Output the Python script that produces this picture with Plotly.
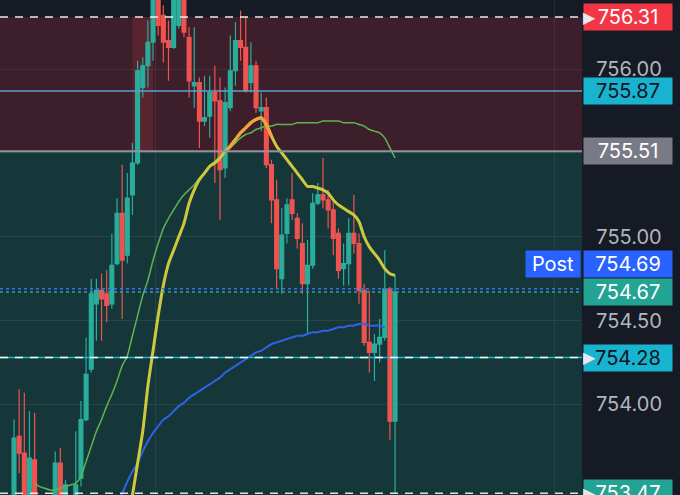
import plotly.graph_objects as go

# ---------------- data ----------------
opens = [753.39,753.81,753.71,753.36,753.67,753.40,753.33,753.41,753.36,753.65,
         753.36,753.36,753.40,753.56,753.91,754.21,754.60,754.68,754.66,754.60,
         754.84,755.14,754.89,755.25,755.44,755.89,756.02,756.16,756.43,756.32,
         756.17,756.13,756.26,756.41,756.19,755.90,755.92,755.69,755.72,755.86,
         755.81,755.41,755.77,755.99,756.17,756.13,755.92,756.02,755.75,755.77,
         755.43,755.22,754.75,755.02,755.22,755.11,754.96,754.72,754.83,755.20,
         755.25,755.22,755.16,755.02,754.81,754.84,755.02,754.96,754.68,754.37,
         754.31,754.36,754.40,754.69,753.90]
highs = [753.91,754.09,754.07,753.96,753.95,753.44,753.42,753.44,753.72,753.74,
         753.55,753.46,753.84,754.02,754.40,754.75,754.75,754.78,754.80,755.02,
         755.23,755.43,755.38,755.56,756.05,756.07,756.29,756.47,756.47,756.38,
         756.29,756.44,756.47,756.44,756.25,756.25,755.95,755.96,755.96,756.02,
         755.95,755.89,756.20,756.28,756.35,756.31,756.16,756.05,755.86,755.83,
         755.46,755.34,755.17,755.23,755.38,755.14,755.08,754.98,755.26,755.32,
         755.47,755.28,755.22,755.05,754.96,755.11,755.25,755.02,754.72,754.68,
         754.42,754.51,754.92,754.70,754.77]
lows = [753.33,753.59,753.33,753.33,753.30,753.30,753.28,753.30,753.33,753.33,
        753.33,753.33,753.35,753.51,753.90,754.19,754.38,754.38,754.49,754.57,
        754.83,754.51,754.84,755.13,755.43,755.83,755.89,756.05,756.20,756.04,
        755.93,756.12,756.24,756.19,755.83,755.77,755.53,755.66,755.59,755.32,
        755.10,755.35,755.75,755.90,756.05,755.86,755.86,755.74,755.63,755.41,
        755.08,754.69,754.66,754.96,755.10,754.93,754.66,754.42,754.81,755.19,
        755.17,755.05,754.89,754.75,754.71,754.71,754.90,754.60,754.35,754.19,
        754.14,754.25,754.38,753.79,753.47]
closes = [753.80,753.71,753.39,753.68,753.36,753.34,753.40,753.35,753.65,753.39,
          753.52,753.42,753.52,753.91,754.18,754.66,754.68,754.63,754.59,754.83,
          755.14,754.86,755.23,755.44,755.99,756.02,756.16,756.43,756.26,756.16,
          756.13,756.41,756.44,756.22,755.93,755.92,755.69,755.71,755.86,755.81,
          755.40,755.80,755.99,756.17,756.13,755.87,756.02,755.77,755.77,755.43,
          755.22,754.81,755.01,755.19,755.14,754.99,754.72,754.83,755.20,755.25,
          755.22,755.16,754.99,754.80,754.84,755.02,754.96,754.68,754.37,754.31,
          754.36,754.40,754.69,753.90,754.67]

fast_ma_start = 22
fast_ma = [753.30,753.46,753.65,753.84,754.11,754.32,754.53,754.71,754.84,754.92,
           755.00,755.08,755.20,755.28,755.34,755.38,755.42,755.44,755.47,755.51,
           755.54,755.58,755.62,755.65,755.68,755.70,755.71,755.67,755.60,755.54,
           755.50,755.46,755.42,755.38,755.34,755.30,755.30,755.29,755.28,755.26,
           755.22,755.19,755.17,755.15,755.13,755.09,755.00,754.94,754.90,754.86,
           754.81,754.78,754.77]
fast_ma_hot_from = 41
fast_ma_hot_to = 50

slow_ma_start = 4
slow_ma = [753.53,753.51,753.50,753.49,753.49,753.50,753.51,753.52,753.53,753.57,
           753.66,753.75,753.84,753.91,753.99,754.06,754.14,754.23,754.29,754.41,
           754.53,754.65,754.74,754.86,754.96,755.05,755.11,755.16,755.21,755.25,
           755.28,755.31,755.35,755.38,755.42,755.45,755.48,755.51,755.53,755.56,
           755.59,755.61,755.62,755.64,755.65,755.66,755.66,755.67,755.67,755.67,
           755.67,755.68,755.68,755.68,755.68,755.68,755.69,755.69,755.69,755.69,
           755.68,755.68,755.68,755.67,755.66,755.64,755.63,755.62,755.59,755.53,
           755.47]

vwap_start = 20
vwap = [753.42,753.47,753.54,753.60,753.65,753.72,753.78,753.83,753.87,753.91,
        753.93,753.96,753.99,754.01,754.04,754.06,754.08,754.10,754.12,754.14,
        754.16,754.19,754.21,754.23,754.25,754.27,754.29,754.31,754.32,754.34,
        754.36,754.37,754.38,754.39,754.40,754.41,754.41,754.42,754.43,754.43,
        754.44,754.44,754.45,754.46,754.46,754.47,754.47,754.48,754.48,754.47,
        754.47,754.47,754.46]

grid_values = [756.00, 755.50, 755.00, 754.50, 754.00]
tick_values = [756.00, 755.00, 754.50, 754.00]
tick_labels = ["756.00", "755.00", "754.50", "754.00"]

level_high = 756.31
level_blue = 755.87
level_grey = 755.51
post_price = 754.69
last_close = 754.67
level_mid = 754.28
level_low = 753.47
highlight_from, highlight_to = 23.0, 27.0
time_grid = [27.4, 105.0]

# ---------------- styling ----------------
BG = "#161a25"
TEAL = "#29ad9c"
RED = "#ef5350"
FONT = "Inter, Roboto, sans-serif"

n = len(opens)
xs = list(range(n))

fig = go.Figure()

fig.add_trace(go.Candlestick(
    x=xs, open=opens, high=highs, low=lows, close=closes,
    increasing=dict(line=dict(color=TEAL, width=1.2), fillcolor=TEAL),
    decreasing=dict(line=dict(color=RED, width=1.2), fillcolor=RED),
    whiskerwidth=0, hoverinfo="skip", showlegend=False,
))

fig.add_trace(go.Scatter(
    x=list(range(vwap_start, vwap_start + len(vwap))), y=vwap, mode="lines",
    line=dict(color="#2f62e6", width=2, shape="spline", smoothing=0.6),
    hoverinfo="skip", showlegend=False))
fig.add_trace(go.Scatter(
    x=list(range(slow_ma_start, slow_ma_start + len(slow_ma))), y=slow_ma, mode="lines",
    line=dict(color="#5cb54f", width=1.5, shape="spline", smoothing=0.6),
    hoverinfo="skip", showlegend=False))
fig.add_trace(go.Scatter(
    x=list(range(fast_ma_start, fast_ma_start + len(fast_ma))), y=fast_ma, mode="lines",
    line=dict(color="#cfc73c", width=3, shape="spline", smoothing=0.6),
    hoverinfo="skip", showlegend=False))
hot = fast_ma[fast_ma_hot_from - fast_ma_start: fast_ma_hot_to - fast_ma_start + 1]
fig.add_trace(go.Scatter(
    x=list(range(fast_ma_hot_from, fast_ma_hot_to + 1)), y=hot, mode="lines",
    line=dict(color="#f2a33a", width=3, shape="spline", smoothing=0.6),
    hoverinfo="skip", showlegend=False))

shapes = [
    dict(type="rect", xref="paper", yref="y", x0=0, x1=1, y0=level_grey, y1=level_high,
         fillcolor="#3c1f2b", line_width=0, layer="below"),
    dict(type="rect", xref="paper", yref="y", x0=0, x1=1, y0=level_low - 0.05, y1=level_grey,
         fillcolor="#16373a", line_width=0, layer="below"),
    dict(type="rect", xref="x", yref="y", x0=highlight_from, x1=highlight_to,
         y0=level_grey, y1=level_high, fillcolor="#57242f", line_width=0, layer="below"),
    dict(type="line", xref="paper", yref="y", x0=0, x1=1, y0=level_blue, y1=level_blue,
         line=dict(color="#5aa3c8", width=1.5)),
    dict(type="line", xref="paper", yref="y", x0=0, x1=1, y0=level_grey, y1=level_grey,
         line=dict(color="#8f929b", width=2)),
    dict(type="line", xref="paper", yref="y", x0=0, x1=1, y0=level_high, y1=level_high,
         line=dict(color="rgba(255,255,255,0.9)", width=1.5, dash="8px,7px")),
    dict(type="line", xref="paper", yref="y", x0=0, x1=1, y0=level_mid, y1=level_mid,
         line=dict(color="#1fb6cf", width=1.5)),
    dict(type="line", xref="paper", yref="y", x0=0, x1=1, y0=level_mid, y1=level_mid,
         line=dict(color="rgba(255,255,255,0.95)", width=1.5, dash="8px,7px")),
    dict(type="line", xref="paper", yref="y", x0=0, x1=1, y0=level_low, y1=level_low,
         line=dict(color="rgba(255,255,255,0.85)", width=1.5, dash="8px,7px")),
    dict(type="line", xref="paper", yref="y", x0=0, x1=1, y0=post_price, y1=post_price,
         line=dict(color="#3d6ef5", width=1.5, dash="dot")),
    dict(type="line", xref="paper", yref="y", x0=0, x1=1, y0=last_close, y1=last_close,
         line=dict(color="#2aa898", width=1.5, dash="dot")),
]

annotations = []
TICK_FONT = dict(family=FONT, size=20, color="#b2b5be")
for v, t in zip(tick_values, tick_labels):
    annotations.append(dict(x=1, xref="paper", xanchor="left", xshift=1, y=v, yref="y",
                            yanchor="middle", text=t, showarrow=False, width=88,
                            align="center", font=TICK_FONT))

def label(v, text, bg, fg, yshift=0, pointer=False):
    annotations.append(dict(x=1, xref="paper", xanchor="left", xshift=1, y=v, yref="y",
                            yanchor="middle", yshift=yshift, text=text, showarrow=False,
                            width=88, height=26, borderpad=0, align="center", bgcolor=bg,
                            font=dict(family=FONT, size=20, color=fg)))
    if pointer:
        annotations.append(dict(x=1, xref="paper", xanchor="left", xshift=-1, y=v, yref="y",
                                yanchor="middle", yshift=yshift, text="▶", showarrow=False,
                                font=dict(family="DejaVu Sans", size=16, color="#e8e8e8")))

label(level_high, "756.31", "#f23645", "#ffffff", pointer=True)
label(level_blue, "755.87", "#17b3cf", "#10141c")
label(level_grey, "755.51", "#787b86", "#ffffff")
label(post_price, "754.69", "#2962ff", "#ffffff", yshift=25)
label(last_close, "754.67", "#22a393", "#ffffff")
label(level_mid, "754.28", "#17b3cf", "#10141c", pointer=True)
label(level_low, "753.47", "#22a393", "#ffffff", pointer=True)
annotations.append(dict(x=1, xref="paper", xanchor="right", xshift=-1, y=post_price, yref="y",
                        yanchor="middle", yshift=25, text="Post", showarrow=False,
                        width=54, height=26, borderpad=0, align="center", bgcolor="#2962ff",
                        font=dict(family=FONT, size=20, color="#ffffff")))

fig.update_layout(
    width=680, height=495,
    margin=dict(l=0, r=98, t=0, b=0),
    paper_bgcolor=BG, plot_bgcolor=BG,
    showlegend=False, boxgap=0.25, boxgroupgap=0,
    shapes=shapes, annotations=annotations,
    xaxis=dict(range=[-2.72, 110.3], rangeslider=dict(visible=False),
               tickvals=time_grid, showticklabels=False, showgrid=True,
               gridcolor="rgba(255,255,255,0.07)", zeroline=False, showline=False, ticks=""),
    yaxis=dict(range=[753.46, 756.412], tickvals=grid_values, showticklabels=False,
               showgrid=True, gridcolor="rgba(255,255,255,0.07)", zeroline=False,
               showline=False, ticks="", side="right"),
)

fig.write_html("out.html", config={"displayModeBar": False},
               post_script="document.body.style.margin='0';document.body.style.background='%s';" % BG)
